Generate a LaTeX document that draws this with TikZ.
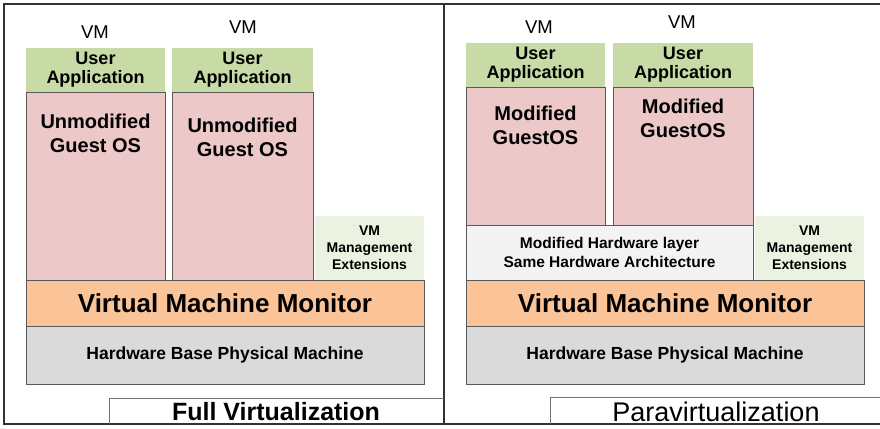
\documentclass[tikz,border=0pt]{standalone}
\usepackage{fontspec}
\setmainfont{Liberation Sans}
\usepackage{tikz}

\definecolor{appgreen}{RGB}{200,218,166}
\definecolor{ospink}{RGB}{236,200,200}
\definecolor{vmmorange}{RGB}{250,196,152}
\definecolor{hwgray}{RGB}{218,218,218}
\definecolor{extgreen}{RGB}{236,242,225}
\definecolor{layergray}{RGB}{243,243,243}

\tikzset{
  layer/.style={draw=black!65, line width=0.9pt, inner sep=0pt, align=center, font=\bfseries},
  appbox/.style={fill=appgreen, inner sep=0pt, align=center, minimum height=44pt,
    font=\fontsize{18}{19}\selectfont\bfseries},
  osbox/.style={layer, fill=ospink},
  ostext/.style={align=center, inner sep=0pt, font=\fontsize{20}{24}\selectfont\bfseries},
  extbox/.style={fill=extgreen, inner sep=0pt, align=center, minimum width=109pt, minimum height=64pt,
    font=\fontsize{14}{17}\selectfont\bfseries},
  vmmbox/.style={layer, fill=vmmorange, minimum width=398pt, minimum height=46pt,
    font=\fontsize{26}{28}\selectfont\bfseries},
  hwbox/.style={layer, fill=hwgray, minimum width=398pt, minimum height=58pt,
    font=\fontsize{17.5}{19}\selectfont\bfseries},
  vmtag/.style={inner sep=0pt, font=\fontsize{18.5}{20}\selectfont},
  title/.style={inner sep=0pt, font=\fontsize{25}{28}\selectfont\bfseries},
  frame/.style={draw=black!80, line width=1.3pt},
  tagline/.style={draw=black!55, line width=0.9pt}
}

\begin{document}
\begin{tikzpicture}[x=1pt,y=-1pt]
  \useasboundingbox (0,0) rectangle (880,428);

  \draw[frame] (880,4) -- (4,4) -- (4,424) -- (880,424);
  \draw[frame] (444,4) -- (444,424);

  % full virtualization
  \node[vmtag] (vm1) at (95,32) {VM};
  \node[vmtag] (vm2) at (243,27) {VM};
  \node[appbox, minimum width=139pt] (app1) at (95.5,70) {User\\Application};
  \node[appbox, minimum width=141pt] (app2) at (242.5,70) {User\\Application};
  \node[osbox, minimum width=139pt, minimum height=188pt] (os1) at (95.5,186) {};
  \node[osbox, minimum width=141pt, minimum height=188pt] (os2) at (242.5,186) {};
  \node[ostext] (os1t) at (95.5,133) {Unmodified\\Guest OS};
  \node[ostext] (os2t) at (242.5,137) {Unmodified\\Guest OS};
  \node[extbox] (ext1) at (369.5,248) {VM\\Management\\Extensions};
  \node[vmmbox] (vmm1) at (225,303) {Virtual Machine Monitor};
  \node[hwbox] (hw1) at (225,355) {Hardware Base Physical Machine};
  \draw[tagline] (109,424) |- (444,398);
  \node[title] (full) at (276,412) {Full Virtualization};

  % paravirtualization
  \node[vmtag] (vm3) at (539,27) {VM};
  \node[vmtag] (vm4) at (682,22) {VM};
  \node[appbox, minimum width=139pt] (app3) at (535.5,65) {User\\Application};
  \node[appbox, minimum width=140pt] (app4) at (683,65) {User\\Application};
  \node[osbox, minimum width=139pt, minimum height=138pt] (os3) at (535.5,156) {};
  \node[osbox, minimum width=140pt, minimum height=138pt] (os4) at (683,156) {};
  \node[ostext] (os3t) at (535.5,125) {Modified\\GuestOS};
  \node[ostext] (os4t) at (683,118) {Modified\\GuestOS};
  \node[layer, fill=layergray, minimum width=287pt, minimum height=55pt,
    font=\fontsize{15.5}{19}\selectfont\bfseries] (modhw) at (609.5,252.5)
    {Modified Hardware layer\\Same Hardware Architecture};
  \node[extbox] (ext2) at (809.5,248) {VM\\Management\\Extensions};
  \node[vmmbox] (vmm2) at (665,303) {Virtual Machine Monitor};
  \node[hwbox] (hw2) at (665,355) {Hardware Base Physical Machine};
  \draw[tagline] (550,424) |- (880,397);
  \node[title, font=\fontsize{27}{28}\selectfont] (para) at (716,412) {Paravirtualization};
\end{tikzpicture}
\end{document}
